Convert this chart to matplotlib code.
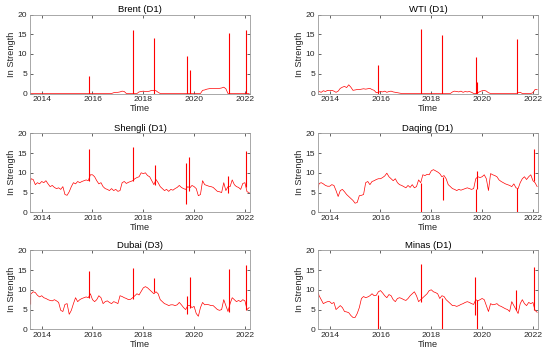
import matplotlib
matplotlib.use("Agg")
import matplotlib.pyplot as plt
import numpy as np
import pandas as pd

plt.rcParams['font.family'] = ['Liberation Sans', 'DejaVu Sans']

# monthly time axis, Jul 2013 .. Mar 2022
months = pd.date_range('2013-07-01', '2022-03-01', freq='MS')
t = months.year + (months.month - 1) / 12.0

titles = ["Brent (D1)", "WTI (D1)", "Shengli (D1)", "Daqing (D1)", "Dubai (D3)", "Minas (D1)"]

brent = [0, 0, 0, 0, 0, 0,
         0, 0, 0, 0, 0, 0, 0, 0, 0, 0, 0, 0,
         0, 0, 0, 0, 0, 0, 0, 0, 0, 0, 0, 0,
         0, 0, 0, 0, 0, 0, 0, 0, 0, 0, 0.2, 0.3,
         0.3, 0.4, 0.6, 0.5, 0, 0, 0, 0, 0, 0, 0.4, 0.5,
         0.6, 0.5, 0.5, 0.6, 0.8, 0.8, 0.7, 0.3, 0, 0, 0, 0,
         0, 0, 0, 0, 0, 0, 0, 0, 0, 0, 0, 0,
         0, 0, 0, 0, 0.8, 0.9, 1.1, 1.2, 1.3, 1.3, 1.3, 1.3,
         1.3, 1.4, 1.6, 1.2, 0, 0, 0, 0, 0, 0, 0, 0,
         0, 0, 0]
brent_spike_t = [2015.85, 2017.58, 2018.42, 2019.72, 2019.82, 2021.37, 2022.05]
brent_spike_lo = [0, 0, 0, 0, 0, 0, 0]
brent_spike_hi = [4.5, 16.2, 14.0, 9.5, 6.0, 15.2, 16.0]

wti = [0.1, 0.5, 0.3, 0.7, 0.5, 0.8,
       0.7, 0.8, 0.6, 0.3, 0.6, 1.3, 1.6, 1.8, 1.5, 2.2, 1.6, 0.8,
       0.9, 1.0, 1.0, 1.1, 1.2, 1.1, 1.2, 1.3, 1.0, 0.8, 0.2, 0.3,
       0.5, 0.4, 0.6, 0.3, 0.5, 0.6, 0.4, 0.3, 0.2, 0.1, 0, 0,
       0, 0, 0, 0, 0, 0, 0, 0, 0, 0, 0, 0,
       0, 0, 0, 0, 0, 0, 0, 0, 0, 0, 0.4, 0.6,
       0.5, 0.4, 0.6, 0.3, 0.5, 0.4, 0.5, 0.3, 0, 0, 0.2, 0.5,
       0.7, 0.8, 0.6, 0.2, 0, 0, 0, 0, 0, 0, 0, 0,
       0, 0, 0, 0, 0, 0.2, 0.3, 0, 0, 0, 0, 0,
       0.2, 1.0, 1.0]
wti_spike_t = [2015.9, 2017.58, 2018.42, 2019.75, 2019.8, 2021.36]
wti_spike_lo = [0, 0, 0, 0, 0, 0]
wti_spike_hi = [7.3, 16.3, 14.8, 9.3, 3.0, 13.8]

shengli = [6.0, 8.5, 8.3, 7.0, 7.5, 7.2,
           7.8, 7.5, 8.0, 7.2, 6.5, 6.8, 6.3, 6.0, 6.2, 5.8, 6.5, 4.5,
           4.3, 5.2, 6.5, 7.5, 7.2, 7.8, 7.5, 7.8, 8.0, 8.2, 8.0, 9.5,
           9.5, 9.0, 8.0, 7.2, 7.5, 6.5, 6.0, 5.8, 5.5, 6.0, 5.5, 5.8,
           5.3, 5.5, 7.5, 7.8, 7.3, 7.6, 7.8, 8.0, 8.5, 8.8, 9.0, 10.0,
           9.8, 10.0, 9.3, 9.0, 8.0, 7.0, 8.3, 7.5, 6.5, 6.0, 5.5, 5.8,
           5.3, 5.8, 5.6, 6.0, 6.3, 6.8, 6.3, 6.0, 5.8, 6.5, 6.2, 6.8,
           6.5, 6.0, 4.2, 4.5, 8.0, 7.0, 6.8, 6.6, 6.5, 6.3, 5.8, 5.3,
           5.2, 5.0, 7.5, 5.5, 6.5, 6.5, 8.2, 7.0, 6.5, 6.3, 5.8, 7.3,
           7.5, 5.2, 5.0]
shengli_spike_t = [2015.87, 2017.6, 2018.45, 2019.7, 2019.8, 2021.35, 2022.05]
shengli_spike_lo = [8.0, 8.0, 7.0, 2.0, 5.5, 5.0, 6.5]
shengli_spike_hi = [16.0, 16.5, 12.0, 12.5, 14.0, 9.2, 15.5]

daqing = [5.0, 7.3, 7.5, 7.2, 6.8, 6.6,
          6.6, 7.0, 6.8, 5.5, 4.0, 5.5, 5.8, 5.2, 4.5, 4.0, 3.5, 3.0,
          2.3, 2.5, 4.2, 4.3, 4.5, 7.5, 7.8, 7.0, 7.8, 8.0, 8.3, 8.5,
          8.5, 8.8, 9.2, 9.9, 9.0, 8.5, 8.0, 8.5, 7.5, 7.0, 6.8, 6.5,
          6.2, 6.8, 6.3, 7.0, 6.2, 6.5, 8.2, 7.5, 9.5, 9.3, 9.6, 9.5,
          10.5, 10.8, 10.5, 10.2, 9.8, 9.0, 9.3, 8.5, 7.0, 6.5, 6.0, 5.8,
          5.5, 5.8, 5.6, 5.8, 6.0, 6.2, 6.0, 5.8, 6.0, 8.5, 9.0, 8.8,
          9.0, 9.5, 8.5, 5.5, 9.8, 9.5, 9.3, 9.0, 8.2, 7.8, 7.5, 7.2,
          7.0, 6.8, 6.5, 7.2, 6.2, 6.0, 7.5, 8.5, 9.0, 8.3, 9.0, 9.5,
          8.0, 7.5, 6.5]
daqing_spike_t = [2017.6, 2018.45, 2019.75, 2019.78, 2021.36, 2022.05]
daqing_spike_lo = [0.0, 3.0, 0.0, 6.0, 0.0, 8.0]
daqing_spike_hi = [7.5, 9.0, 6.0, 10.5, 6.2, 16.0]

dubai = [8.5, 9.0, 9.5, 9.3, 8.6, 8.2,
         8.5, 8.0, 7.8, 7.5, 7.3, 7.2, 7.5, 7.2, 6.8, 4.8, 4.5, 6.3,
         6.5, 3.8, 4.8, 6.5, 8.0, 7.0, 7.5, 7.8, 8.0, 8.2, 8.0, 9.0,
         7.5, 7.0, 7.5, 8.5, 8.0, 6.5, 7.0, 7.2, 6.8, 6.5, 7.0, 6.8,
         6.5, 8.5, 8.3, 8.0, 7.8, 7.5, 7.6, 8.0, 8.5, 9.0, 8.7, 9.6,
         10.5, 10.8, 10.5, 10.0, 9.5, 9.0, 9.5, 9.0, 7.5, 7.0, 6.5, 6.3,
         6.0, 6.2, 6.2, 6.0, 6.2, 6.8, 6.2, 5.5, 5.0, 6.0, 6.0, 5.5,
         5.8, 4.0, 3.3, 5.5, 6.8, 6.2, 6.3, 6.2, 6.0, 6.0, 5.5, 5.0,
         4.8, 5.0, 7.5, 6.0, 4.5, 6.5, 8.0, 7.5, 7.0, 7.3, 7.0, 7.5,
         7.2, 5.0, 5.5]
dubai_spike_t = [2013.55, 2015.88, 2017.58, 2018.42, 2019.72, 2019.82, 2021.37, 2022.05]
dubai_spike_lo = [6.5, 8.0, 7.6, 9.5, 4.0, 5.5, 4.5, 5.0]
dubai_spike_hi = [9.0, 14.7, 15.5, 13.0, 8.5, 13.3, 15.3, 16.3]

minas = [10.3, 8.5, 7.5, 6.5, 6.8, 7.0,
         7.0, 6.5, 6.8, 5.0, 5.5, 6.0, 5.5, 4.5, 4.4, 4.2, 3.5, 3.0,
         3.0, 4.0, 5.5, 7.8, 8.3, 8.0, 8.2, 8.5, 9.0, 8.5, 8.6, 9.5,
         9.8, 9.2, 8.5, 8.0, 8.8, 8.5, 7.5, 7.0, 7.8, 8.0, 7.8, 7.5,
         7.3, 7.8, 8.5, 9.0, 9.5, 8.5, 7.0, 7.5, 8.0, 8.5, 9.0, 9.8,
         10.0, 9.5, 9.3, 9.0, 7.8, 8.5, 8.3, 7.5, 7.0, 6.5, 6.0, 6.0,
         5.8, 6.0, 6.3, 6.5, 6.8, 7.0, 6.8, 6.5, 6.3, 7.5, 7.2, 7.5,
         7.8, 7.5, 6.0, 4.5, 6.5, 6.2, 6.3, 6.5, 6.0, 5.8, 5.5, 5.2,
         5.0, 4.5, 7.0, 6.0, 5.0, 4.0, 6.5, 7.5, 6.5, 6.0, 6.8, 6.5,
         6.8, 4.8, 4.3]
minas_spike_t = [2015.9, 2017.6, 2018.42, 2019.72, 2019.8, 2021.35, 2022.05]
minas_spike_lo = [0.0, 7.0, 0.0, 3.5, 0.0, 5.0, 5.0]
minas_spike_hi = [8.6, 16.5, 7.8, 13.3, 7.5, 10.0, 15.7]

series = [brent, wti, shengli, daqing, dubai, minas]
spikes = [(brent_spike_t, brent_spike_lo, brent_spike_hi),
          (wti_spike_t, wti_spike_lo, wti_spike_hi),
          (shengli_spike_t, shengli_spike_lo, shengli_spike_hi),
          (daqing_spike_t, daqing_spike_lo, daqing_spike_hi),
          (dubai_spike_t, dubai_spike_lo, dubai_spike_hi),
          (minas_spike_t, minas_spike_lo, minas_spike_hi)]

xticks = [2014, 2016, 2018, 2020, 2022]
yticks = [0, 5, 10, 15, 20]

W, H = 550, 360
fig = plt.figure(figsize=(W / 100, H / 100), dpi=100)
lefts = [30 / W, 318 / W]
bottoms = [1 - 93.5 / H, 1 - 212.3 / H, 1 - 329.3 / H]
aw, ah = 220 / W, 79 / H
txt = '#262626'
for i in range(6):
    r, c = divmod(i, 2)
    ax = fig.add_axes([lefts[c], bottoms[r], aw, ah])
    ax.plot(t, series[i], color='red', lw=0.5)
    st, lo, hi = spikes[i]
    ax.vlines(st, lo, hi, color='red', lw=0.8)
    ax.set_xlim(2013.54, 2022.2)
    ax.set_ylim(0, 20)
    ax.set_xticks(xticks)
    ax.set_xticklabels([str(x) for x in xticks])
    ax.set_yticks(yticks)
    ax.tick_params(direction='in', top=True, right=True, length=2, width=0.5,
                   labelsize=6.1, colors=txt, pad=2)
    for s in ax.spines.values():
        s.set_color('#9a9a9a')
        s.set_linewidth(0.6)
    ax.set_title(titles[i], fontsize=6.8, color='black', pad=2)
    ax.set_xlabel('Time', fontsize=6.7, color=txt, labelpad=0.5)
    ax.set_ylabel('In Strength', fontsize=6.7, color=txt, labelpad=1)

fig.savefig('out.png', dpi=100)
